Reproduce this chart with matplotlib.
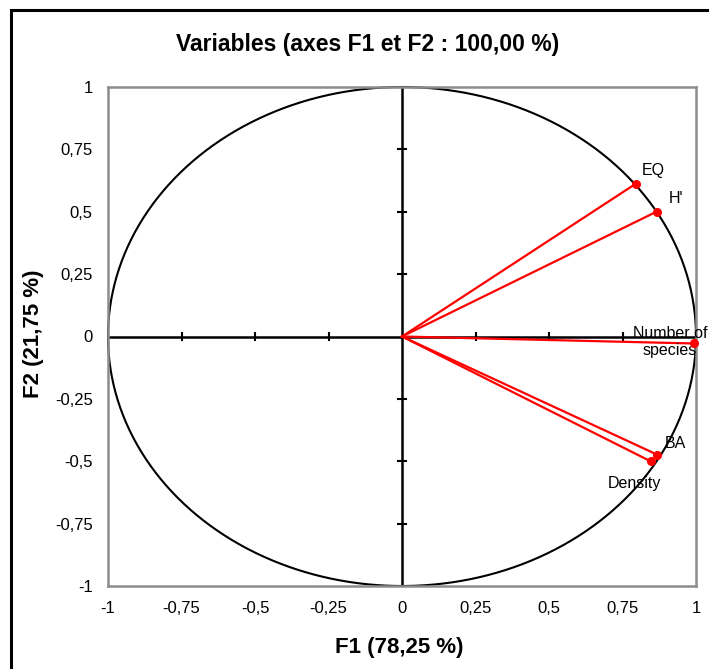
import matplotlib
matplotlib.use('Agg')
from matplotlib import pyplot as plt
from matplotlib.patches import Rectangle
import numpy as np

plt.rcParams['font.family'] = ['Liberation Sans', 'DejaVu Sans']

variables = ['EQ', "H'", 'Number of\nspecies', 'BA', 'Density']
f1 = [0.796, 0.867, 0.993, 0.867, 0.847]
f2 = [0.613, 0.501, -0.028, -0.473, -0.501]
ticks = [-1, -0.75, -0.5, -0.25, 0, 0.25, 0.5, 0.75, 1]
tick_labels = ['-1', '-0,75', '-0,5', '-0,25', '0', '0,25', '0,5', '0,75', '1']

fig = plt.figure(figsize=(7.09, 6.69), dpi=100)
W, H = 709, 669

# outer chart frame
fig.patches.append(Rectangle((11 / W, -0.1), 1.2, 1 - 9.5 / H + 0.1, transform=fig.transFigure,
                             fill=False, edgecolor='black', linewidth=2.2))

ax = fig.add_axes([108 / W, (H - 586) / H, 588 / W, 499 / H])
ax.set_xlim(-1, 1)
ax.set_ylim(-1, 1)
for s in ax.spines.values():
    s.set_color('#8c8c8c')
    s.set_linewidth(1.8)

# correlation circle
t = np.linspace(0, 2 * np.pi, 400)
ax.plot(np.cos(t), np.sin(t), color='black', lw=1.5, clip_on=False)

# center axes with small ticks
ax.axhline(0, color='black', lw=1.8)
ax.axvline(0, color='black', lw=1.8)
for v in ticks:
    if v in (-1, 0, 1):
        continue
    ax.plot([v, v], [-0.014, 0.014], color='black', lw=1.5)
    ax.plot([-0.012, 0.012], [v, v], color='black', lw=1.5)

# variable vectors
for x, y in zip(f1, f2):
    ax.plot([0, x], [0, y], color='red', lw=1.6)
ax.plot(f1, f2, 'o', color='red', ms=5.5, clip_on=False, zorder=5)

label_pos = {
    'EQ': (0.816, 0.665, 'left'),
    "H'": (0.908, 0.553, 'left'),
    'Number of\nspecies': (0.912, -0.022, 'center'),
    'BA': (0.893, -0.429, 'left'),
    'Density': (0.789, -0.589, 'center'),
}
for name in variables:
    lx, ly, ha = label_pos[name]
    ax.text(lx, ly, name, fontsize=11.5, ha=ha, va='center', linespacing=1.15,
            clip_on=False)

ax.set_xticks(ticks)
ax.set_xticklabels(tick_labels, fontsize=12)
ax.set_yticks(ticks)
ax.set_yticklabels(tick_labels, fontsize=12)
ax.tick_params(axis='x', length=0, pad=11)
ax.tick_params(axis='y', length=0, pad=11)

fig.text(368 / W, 1 - 45 / H, 'Variables (axes F1 et F2 : 100,00 %)', fontsize=16.5,
         fontweight='bold', ha='center', va='center')
fig.text(399 / W, 1 - 647 / H, 'F1 (78,25 %)', fontsize=16, fontweight='bold',
         ha='center', va='center')
fig.text(33 / W, 1 - 334 / H, 'F2 (21,75 %)', fontsize=16, fontweight='bold',
         ha='center', va='center', rotation=90)

fig.savefig('out.png', dpi=100)
